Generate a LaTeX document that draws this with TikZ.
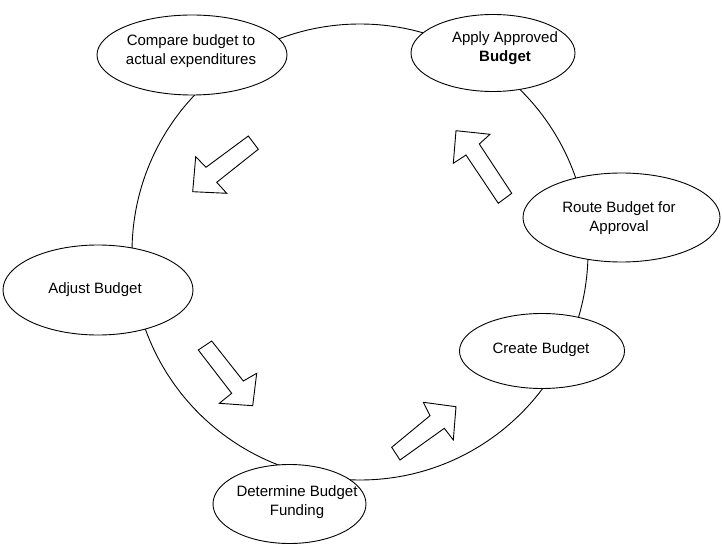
\documentclass[tikz,border=0pt]{standalone}
\usepackage{fontspec}
\setmainfont{Liberation Sans}
\usetikzlibrary{shapes.geometric}
\begin{document}
\begin{tikzpicture}[x=1pt,y=-1pt,line width=0.9pt,
  oval/.style={draw,ellipse,fill=white,inner sep=0pt},
  lbl/.style={align=center,font=\fontsize{15}{19}\selectfont,inner sep=0pt},
  blockarrow/.style={draw,fill=white,line join=miter}]
\useasboundingbox (0,0) rectangle (722,545);
\coordinate (ctr) at (360,252);
\draw (ctr) circle[radius=228];
% ellipses
\node[oval,minimum width=190,minimum height=80] (compare) at (192,55) {};
\node[oval,minimum width=164,minimum height=77] (apply) at (493,53) {};
\node[oval,minimum width=197,minimum height=89] (route) at (621.5,217.5) {};
\node[oval,minimum width=165,minimum height=75] (create) at (542,351) {};
\node[oval,minimum width=153,minimum height=79] (determine) at (289.5,504) {};
\node[oval,minimum width=190,minimum height=90] (adjust) at (98,290) {};
% labels
\node[lbl] (compareT) at (191,51) {Compare budget to\\actual expenditures};
\node[lbl] (applyT) at (505,48) {Apply Approved\\\textbf{Budget}};
\node[lbl] (routeT) at (619,218) {Route Budget for\\Approval};
\node[lbl] (createT) at (541,350) {Create Budget};
\node[lbl] (determineT) at (297,502) {Determine Budget\\Funding};
\node[lbl] (adjustT) at (95,290) {Adjust Budget};
% block arrows
\draw[blockarrow] (248.3,136) -- (258.3,149.3) -- (216.7,182.3) -- (226.7,193.3)
  -- (192.7,191.7) -- (195.7,156.7) -- (206,167.3) -- cycle;
\draw[blockarrow] (456,130.7) -- (490,134.3) -- (479.3,144) -- (511.7,193.3)
  -- (498.3,203.3) -- (466,155) -- (453.3,163.3) -- cycle;
\draw[blockarrow] (198.3,350) -- (211.7,341) -- (243.3,381) -- (256.7,373.3)
  -- (252.7,405.7) -- (219.3,403.3) -- (231.7,393.3) -- cycle;
\draw[blockarrow] (391.7,447.3) -- (430,415.7) -- (423.3,402.3) -- (456,406.7)
  -- (453.3,440) -- (444.3,428.3) -- (400,460) -- cycle;
\end{tikzpicture}
\end{document}
